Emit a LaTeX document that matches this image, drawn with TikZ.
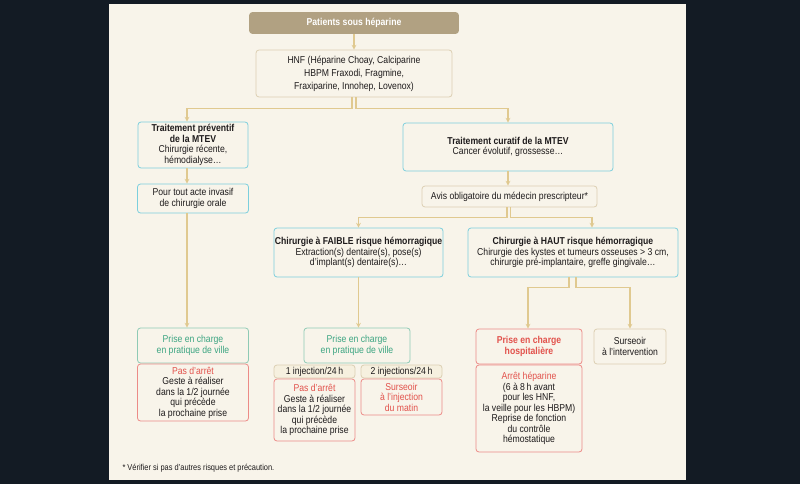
\documentclass[tikz,border=0pt]{standalone}
\usepackage{fontspec}
\setmainfont{Liberation Sans}[FakeStretch=0.865]
\usepackage{tikz}
\usetikzlibrary{arrows,calc}

\definecolor{dark}{HTML}{131B24}
\definecolor{paper}{HTML}{F8F4EA}
\definecolor{khaki}{HTML}{B1A182}
\definecolor{gold}{HTML}{E0C990}
\definecolor{cyanb}{HTML}{7CCFDD}
\definecolor{greenb}{HTML}{8FCAB5}
\definecolor{greent}{HTML}{3DA582}
\definecolor{redb}{HTML}{EC8B87}
\definecolor{redt}{HTML}{E2524C}
\definecolor{beige}{HTML}{DCCFB2}
\definecolor{tag}{HTML}{F6F0DF}
\definecolor{ink}{HTML}{1E1B1C}

\begin{document}
\begin{tikzpicture}[x=1pt, y=-1pt, >=stealth,
		font=\fontsize{10}{10.5}\selectfont, text=ink,
		box/.style={draw, rounded corners=3pt, align=center, inner sep=0.5pt, line width=0.8pt, fill=paper},
		topbox/.style={box, draw=khaki, fill=khaki, text=white, font=\fontsize{10}{10.5}\selectfont\bfseries},
		beigebox/.style={box, draw=beige},
		cyanbox/.style={box, draw=cyanb},
		greenbox/.style={box, draw=greenb, text=greent},
		redbox/.style={box, draw=redb},
		tagbox/.style={box, draw=beige, fill=tag},
		link/.style={draw=gold, line width=1.1pt}]
		% background
		\fill[dark] (0,0) rectangle (800,484);
		\fill[paper] (109,4) rectangle (686,480);
		
		% top of the tree
		\node[topbox, minimum width=209pt, minimum height=21pt] (top) at (354,23) {Patients sous héparine};
		\node[beigebox, minimum width=196pt, minimum height=47pt, font=\fontsize{10}{13}\selectfont] (hnf) at (354,73.5) {HNF (Héparine Choay, Calciparine\\HBPM Fraxodi, Fragmine,\\Fraxiparine, Innohep, Lovenox)};
		
		% preventive branch
		\node[cyanbox, minimum width=110pt, minimum height=46pt] (prev) at (193,145) {\textbf{Traitement préventif}\\\textbf{de la MTEV}\\Chirurgie récente,\\hémodialyse…};
		\node[cyanbox, minimum width=111pt, minimum height=29pt] (acte) at (193,198.5) {Pour tout acte invasif\\de chirurgie orale};
		\node[greenbox, minimum width=111pt, minimum height=35pt] (villeA) at (193,345.5) {Prise en charge\\en pratique de ville};
		\node[redbox, minimum width=111pt, minimum height=57pt] (arretA) at (193,392.5) {\textcolor{redt}{Pas d’arrêt}\\Geste à réaliser\\dans la 1/2 journée\\qui précède\\la prochaine prise};
		
		% curative branch
		\node[cyanbox, minimum width=210pt, minimum height=48pt] (cur) at (508,147) {\textbf{Traitement curatif de la MTEV}\\Cancer évolutif, grossesse…};
		\node[beigebox, minimum width=175pt, minimum height=21pt] (avis) at (509.5,196.5) {Avis obligatoire du médecin prescripteur*};
		\node[cyanbox, minimum width=169pt, minimum height=49pt] (faible) at (358.5,252.5) {\textbf{Chirurgie à FAIBLE risque hémorragique}\\Extraction(s) dentaire(s), pose(s)\\d’implant(s) dentaire(s)…};
		\node[cyanbox, minimum width=210pt, minimum height=49pt] (haut) at (573,252.5) {\textbf{Chirurgie à HAUT risque hémorragique}\\Chirurgie des kystes et tumeurs osseuses > 3 cm,\\chirurgie pré-implantaire, greffe gingivale…};
		
		% low risk
		\node[greenbox, minimum width=106pt, minimum height=35pt] (villeB) at (357,345.5) {Prise en charge\\en pratique de ville};
		\node[tagbox, minimum width=81pt, minimum height=13pt] (injA) at (314.5,371.5) {1 injection/24\,h};
		\node[redbox, minimum width=81pt, minimum height=62pt] (arretB) at (314.5,410) {\textcolor{redt}{Pas d’arrêt}\\Geste à réaliser\\dans la 1/2 journée\\qui précède\\la prochaine prise};
		\node[tagbox, minimum width=81pt, minimum height=13pt] (injB) at (401.5,371.5) {2 injections/24\,h};
		\node[redbox, minimum width=81pt, minimum height=36pt, text=redt] (sursB) at (401.5,397) {Surseoir\\à l’injection\\du matin};
		
		% high risk
		\node[redbox, minimum width=106pt, minimum height=35pt, text=redt, font=\fontsize{10}{10.5}\selectfont\bfseries] (hosp) at (529,346.5) {Prise en charge\\hospitalière};
		\node[redbox, minimum width=106pt, minimum height=87pt] (arretC) at (529,408.5) {\textcolor{redt}{Arrêt héparine}\\(6 à 8\,h avant\\pour les HNF,\\la veille pour les HBPM)\\Reprise de fonction\\du contrôle\\hémostatique};
		\node[beigebox, minimum width=72pt, minimum height=35pt] (interv) at (630,346.5) {Surseoir\\à l’intervention};
		
		\node[anchor=west, font=\fontsize{8.6}{9}\selectfont] (note) at (119,468) {* Vérifier si pas d’autres risques et précaution.};
		
		% connectors
		\draw[link, ->] (top.south) -- (hnf.north);
		\draw[link, ->] ([xshift=-2pt]hnf.south) -- ++(0,11) -| ([xshift=-6pt]prev.north);
		\draw[link, ->] ([xshift=2pt]hnf.south) -- ++(0,11) -| (cur.north);
		\draw[link, ->] ([xshift=-6pt]prev.south) -- ([xshift=-6pt]acte.north);
		\draw[link, ->] ([xshift=-6pt]acte.south) -- ([xshift=-6pt]villeA.north);
		\draw[link, ->] (cur.south) -- (cur.south |- avis.north);
		\draw[link, ->] ([xshift=-2.5pt]avis.south) -- ++(0,10) -| (faible.north);
		\draw[link, ->] ([xshift=1pt]avis.south) -- ++(0,10) -| ([xshift=19pt]haut.north);
		\draw[link, ->] (faible.south) -- (faible.south |- villeB.north);
		\draw[link, ->] ([xshift=-4pt]haut.south) -- ++(0,10) -| ([xshift=-1pt]hosp.north);
		\draw[link, ->] ([xshift=3pt]haut.south) -- ++(0,10) -| (interv.north);
	\end{tikzpicture}
\end{document}
